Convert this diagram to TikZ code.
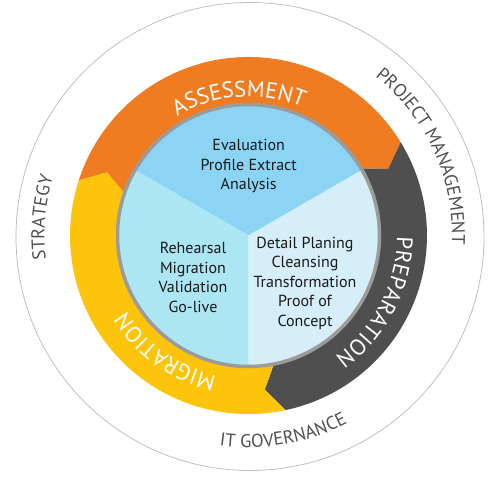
\documentclass[tikz,border=0pt]{standalone}
\usepackage{fontspec}
\setmainfont{PT Sans}
\usetikzlibrary{decorations.text}
\definecolor{assessorange}{HTML}{F07C22}
\definecolor{prepgray}{HTML}{4F4F4F}
\definecolor{migryellow}{HTML}{FDC40C}
\definecolor{evalblue}{HTML}{8BD4F4}
\definecolor{rehearsalblue}{HTML}{ACE6F3}
\definecolor{detailblue}{HTML}{D6EEF8}
\definecolor{rimgray}{HTML}{BFBFBF}
\definecolor{bordergray}{HTML}{9B9B9B}
\definecolor{labelgray}{HTML}{505050}
\newcommand\ringfont{\fontsize{22.5}{22.5}\selectfont}
\newcommand\rimfont{\fontsize{18.5}{18.5}\selectfont}

\begin{document}
\begin{tikzpicture}[x=1pt,y=1pt,
    phase/.style={decorate,decoration={text along path,text align=center,text color=white}},
    rim/.style={decorate,decoration={text along path,text align=center,text color=labelgray}},
    steps/.style={align=center,text=black!90,font=\fontsize{16}{19.5}\selectfont}]
\useasboundingbox (-248.5,-241.5) rectangle (251.5,235.5);
\draw[rimgray,line width=0.8pt] (1.5,-1) circle (234);
\foreach \col/\from/\to in {assessorange/162/31.5, prepgray/31.5/-78, migryellow/-78/-198}
    \fill[\col] (\from:178.5) arc[start angle=\from,end angle=\to,radius=178.5] -- ({\to-6}:155)
        -- (\to:128) arc[start angle=\to,end angle=\from,radius=128] -- ({\from-6}:155) -- cycle;
\fill[evalblue] (0,0) -- (30:130) arc[start angle=30,end angle=150,radius=130] -- cycle;
\fill[rehearsalblue] (0,0) -- (150:130) arc[start angle=150,end angle=270,radius=130] -- cycle;
\fill[detailblue] (0,0) -- (270:130) arc[start angle=270,end angle=390,radius=130] -- cycle;
\draw[bordergray,line width=3.5pt] (0,0) circle (131);
\node[steps] (eval) at (0.2,69.5) {Evaluation\\Profile Extract\\Analysis};
\node[steps] (rehearsal) at (-55.5,-42) {Rehearsal\\Migration\\Validation\\Go-live};
\node[steps] (detail) at (56.5,-47.5) {Detail Planing\\Cleansing\\Transformation\\Proof of\\Concept};
\path[phase,decoration={text={|\ringfont|ASSESSMENT}}] (125:139) arc[start angle=125,end angle=63,radius=139];
\path[phase,decoration={text={|\ringfont|PREPARATION}}] (8:148.5) arc[start angle=8,end angle=-63,radius=148.5];
\path[phase,decoration={text={|\ringfont|MIGRATION}}] (-95:144) arc[start angle=-95,end angle=-156,radius=144];
\path[rim,decoration={text={|\rimfont|STRATEGY}}] (200:204) arc[start angle=200,end angle=150,radius=204];
\path[rim,decoration={text={|\rimfont|PROJECT MANAGEMENT}}] (60:203.5) arc[start angle=60,end angle=-11,radius=203.5];
\path[rim,decoration={text={|\rimfont|IT GOVERNANCE}}] (-110:212) arc[start angle=-110,end angle=-50,radius=212];
\end{tikzpicture}
\end{document}
